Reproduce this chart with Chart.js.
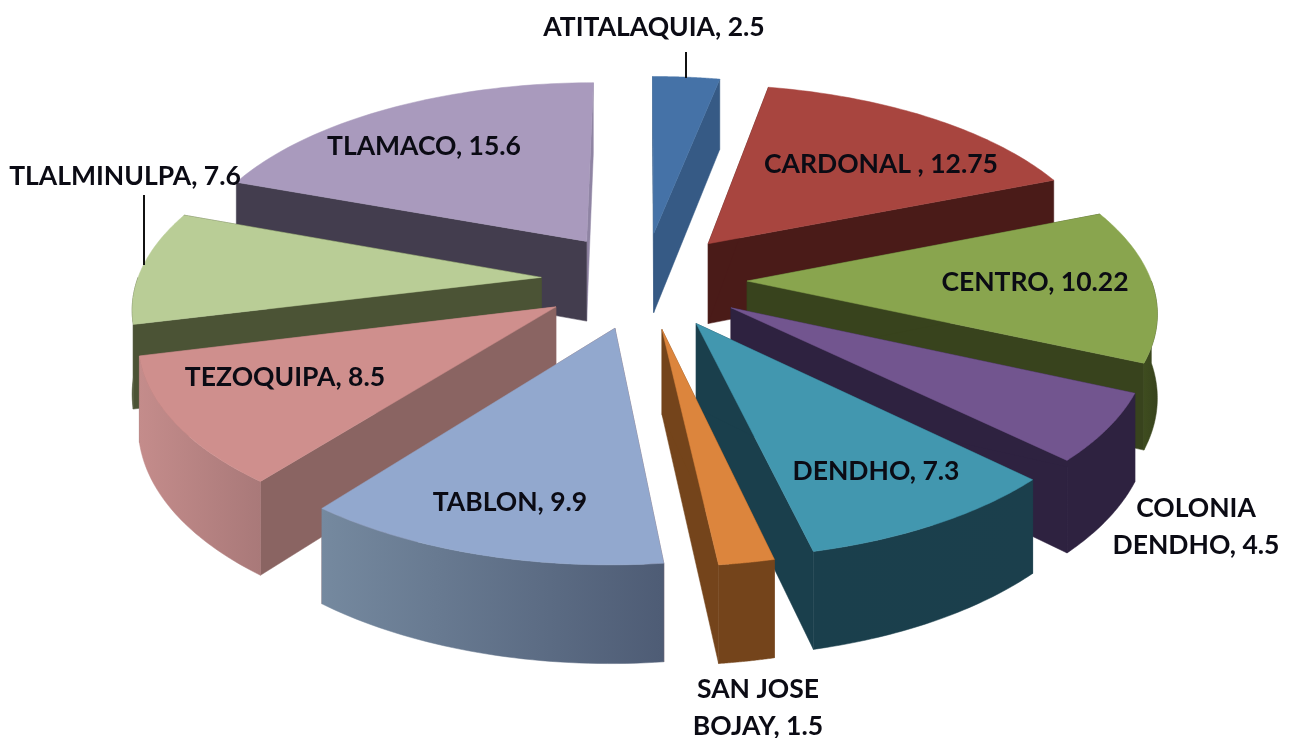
<!DOCTYPE html>
<html>
<head>
<meta charset="utf-8">
<style>html,body{margin:0;padding:0;background:#fff}canvas{display:block}</style>
<script src="https://cdn.jsdelivr.net/npm/chart.js@4"></script>
</head>
<body>
<canvas id="c" width="1290" height="738"></canvas>
<script>
const categories = ['ATITALAQUIA','CARDONAL ','CENTRO','COLONIA DENDHO','DENDHO','SAN JOSE BOJAY','TABLON','TEZOQUIPA','TLALMINULPA','TLAMACO'];
const seriesValues = [2.5,12.75,10.22,4.5,7.3,1.5,9.9,8.5,7.6,15.6];
const topColors = ['#4572A7','#A8453F','#89A54E','#72558F','#4297AF','#DC853D','#92A8CE','#CF8F8D','#B9CD96','#A99ABD'];
const faceColors = ['#365A85','#4A1B18','#38431D','#2E2240','#1A3F4C','#74441B','#8A6462','#8A6462','#4B5335','#8F84A3'];
const wallLeft = ['#365A85','#4A1B18','#3E4C1F','#2E2240','#1A3F4C','#74441B','#75899F','#C48C8B','#4B5335','#433D4E'];
const wallRight = ['#365A85','#4A1B18','#38431D','#2E2240','#1B3F4C','#74441B','#4E5C75','#A97979','#4B5335','#433D4E'];
const startFaceColors = ['#365A85','#4A1B18','#38431D','#2E2240','#1A3F4C','#74441B','#8A6462','#8A6462','#4B5335','#433D4E'];
const labelAnchors = [[654,27],[881,164],[1035,282],[1196,508],[876,471],[758,689],[510,502],[285,377],[125,176],[424,146]];
const labelWrap = [false,false,false,true,false,true,false,false,false,false];
const leaderLines = [[686,52,686,78],[144,195,144,265]];

const view = {cx:644, cy:280, a:404, b:190, p:0.136, depth:82};
const pieRadius = 340, explode = 0.255;

function project(X, Y, z) {
  const w = 1 - view.p * Y;
  return [view.cx + view.a * X / w, view.cy + (view.b * Y + z * view.depth) / w];
}
function tracePoly(ctx, pts) {
  ctx.beginPath();
  pts.forEach((p, i) => i ? ctx.lineTo(p[0], p[1]) : ctx.moveTo(p[0], p[1]));
  ctx.closePath();
}
function fillPoly(ctx, pts, fill) {
  tracePoly(ctx, pts);
  ctx.fillStyle = fill; ctx.strokeStyle = fill; ctx.lineWidth = 0.5;
  ctx.fill(); ctx.stroke();
}
const slicePlugin = {
  id: 'slice3d',
  beforeDatasetsDraw(chart) {
    const ctx = chart.ctx;
    const arcs = chart.getDatasetMeta(0).data;
    const items = arcs.map((arc, i) => {
      const p = arc.getProps(['startAngle','endAngle','outerRadius']);
      const mid = (p.startAngle + p.endAngle) / 2;
      const o = explode;
      return {i, s:p.startAngle, e:p.endAngle, mid, ox:o*Math.cos(mid), oy:o*Math.sin(mid)};
    });
    items.sort((u, v) => u.oy - v.oy);
    ctx.save();
    items.forEach(it => {
      const pt = (ang, z) => project(it.ox + Math.cos(ang), it.oy + Math.sin(ang), z);
      const apex = z => project(it.ox, it.oy, z);
      // radial cut faces
      fillPoly(ctx, [apex(0), pt(it.e,0), pt(it.e,1), apex(1)], faceColors[it.i]);
      fillPoly(ctx, [apex(0), pt(it.s,0), pt(it.s,1), apex(1)], startFaceColors[it.i]);
      // outer wall, the part that faces the viewer
      const lo = Math.max(it.s, 0), hi = Math.min(it.e, Math.PI);
      if (hi > lo) {
        const n = 40, up = [], down = [];
        for (let k = 0; k <= n; k++) {
          const ang = lo + (hi - lo) * k / n;
          up.push(pt(ang, 0)); down.unshift(pt(ang, 1));
        }
        const xs = up.map(q => q[0]);
        const g = ctx.createLinearGradient(Math.min(...xs), 0, Math.max(...xs), 0);
        g.addColorStop(0, wallLeft[it.i]); g.addColorStop(1, wallRight[it.i]);
        fillPoly(ctx, up.concat(down), g);
      }
      // top face
      const n = 60, poly = [apex(0)];
      for (let k = 0; k <= n; k++) poly.push(pt(it.s + (it.e - it.s) * k / n, 0));
      fillPoly(ctx, poly, topColors[it.i]);
    });
    // leader lines
    ctx.strokeStyle = '#111'; ctx.lineWidth = 2;
    leaderLines.forEach(l => { ctx.beginPath(); ctx.moveTo(l[0],l[1]); ctx.lineTo(l[2],l[3]); ctx.stroke(); });
    // labels
    ctx.fillStyle = '#0B0B14';
    ctx.font = 'bold 26.5px Lato';
    ctx.textAlign = 'center'; ctx.textBaseline = 'middle';
    categories.forEach((name, i) => {
      const [x, y] = labelAnchors[i];
      const text = name + ', ' + seriesValues[i];
      if (labelWrap[i]) {
        const cut = name === 'SAN JOSE BOJAY' ? 8 : name.indexOf(' ');
        ctx.fillText(name.slice(0, cut), x, y);
        ctx.fillText(text.slice(cut + 1), x, y + 37);
      } else ctx.fillText(text, x, y);
    });
    ctx.restore();
    return false;
  }
};
new Chart(document.getElementById('c'), {
  type: 'pie',
  data: { labels: categories, datasets: [{ data: seriesValues, backgroundColor: topColors, borderWidth: 0, radius: pieRadius, offset: explode * 4 * pieRadius }] },
  options: {
    responsive: false, animation: false,
    plugins: { legend: {display:false}, tooltip: {enabled:false} }
  },
  plugins: [slicePlugin]
});
</script>
</body>
</html>
